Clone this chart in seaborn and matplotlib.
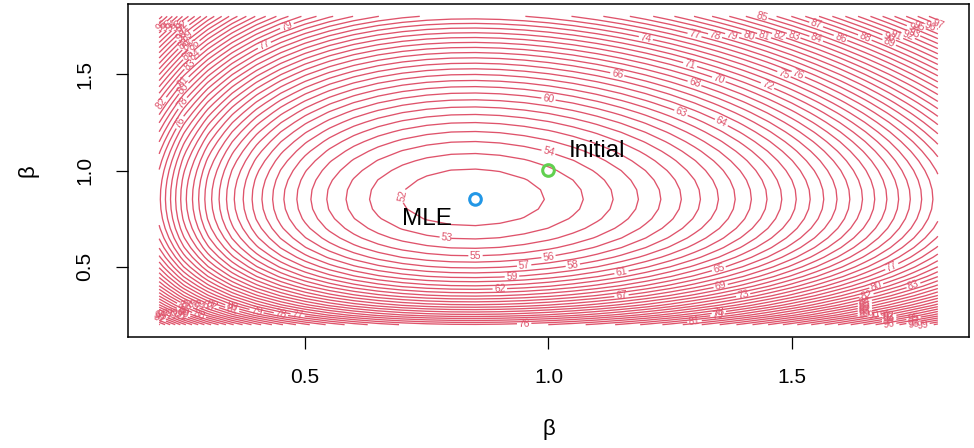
"""Likelihood contour surface with the MLE and the starting value marked."""

import matplotlib

matplotlib.use("Agg")

import matplotlib.pyplot as plt
import numpy as np
import pandas as pd
import seaborn as sns

# grid on which the surface was evaluated
beta_lo, beta_hi, beta_n = 0.2, 1.8, 33

# shape of the surface
nll_min = 51.2
centre_b1, centre_b2 = 0.84, 0.855
curvature = 32.0
power = 0.6

contour_levels = np.arange(52, 101)

point_labels = ["MLE", "Initial"]
point_b1 = [0.85, 1.0]
point_b2 = [0.85, 1.0]
text_b1 = [0.75, 1.1]
text_b2 = [0.75, 1.1]

tick_values = [0.5, 1.0, 1.5]
tick_labels = ["0.5", "1.0", "1.5"]

line_color = "#DF536B"
point_colors = {"MLE": "#2297E6", "Initial": "#61D04F"}


def _power_shift(v, v0):
    return (v**power - v0**power) / power


sns.set_style("ticks")
plt.rcParams["font.family"] = ["Liberation Sans", "DejaVu Sans"]
plt.rcParams["text.color"] = "black"
plt.rcParams["axes.labelcolor"] = "black"
plt.rcParams["xtick.color"] = "black"
plt.rcParams["ytick.color"] = "black"

b1 = np.linspace(beta_lo, beta_hi, beta_n)
b2 = np.linspace(beta_lo, beta_hi, beta_n)
B1, B2 = np.meshgrid(b1, b2)
Z = nll_min + curvature * (_power_shift(B1, centre_b1) ** 2 + _power_shift(B2, centre_b2) ** 2)

fig = plt.figure(figsize=(9.74, 4.48), dpi=100)
ax = fig.add_axes([128 / 974, 1 - 337 / 448, 841 / 974, 333 / 448])

cs = ax.contour(B1, B2, Z, levels=contour_levels, colors=line_color, linewidths=0.95)
ax.clabel(cs, fmt="%d", fontsize=7.5, inline=True, inline_spacing=2)

points = pd.DataFrame({"label": point_labels, "b1": point_b1, "b2": point_b2})
for _, row in points.iterrows():
    col = point_colors[row["label"]]
    sns.scatterplot(
        x=[row["b1"]], y=[row["b2"]], ax=ax, s=70, marker="o",
        color=col, facecolor="none", edgecolor=col, linewidth=2.2, zorder=5,
    )

for label, tx, ty in zip(point_labels, text_b1, text_b2):
    ax.text(tx, ty, label, fontsize=17.5, ha="center", va="center", color="black")

pad = 0.04 * (beta_hi - beta_lo)
ax.set_xlim(beta_lo - pad, beta_hi + pad)
ax.set_ylim(beta_lo - pad, beta_hi + pad)

ax.set_xticks(tick_values)
ax.set_xticklabels(tick_labels)
ax.set_yticks(tick_values)
ax.set_yticklabels(tick_labels, rotation=90, va="center")
ax.tick_params(axis="both", length=8.5, width=0.9, labelsize=15,
               color="black", labelcolor="black")
ax.tick_params(axis="x", pad=14)
ax.tick_params(axis="y", pad=16)

ax.set_xlabel("β", fontsize=16, va="center", color="black")
ax.set_ylabel("β", fontsize=16, va="center", color="black")
ax.xaxis.set_label_coords(0.5, -0.279)
ax.yaxis.set_label_coords(-0.119, 0.5)

for spine in ax.spines.values():
    spine.set_visible(True)
    spine.set_color("black")
    spine.set_linewidth(1.1)

fig.savefig("out.png", dpi=100)
plt.close(fig)
